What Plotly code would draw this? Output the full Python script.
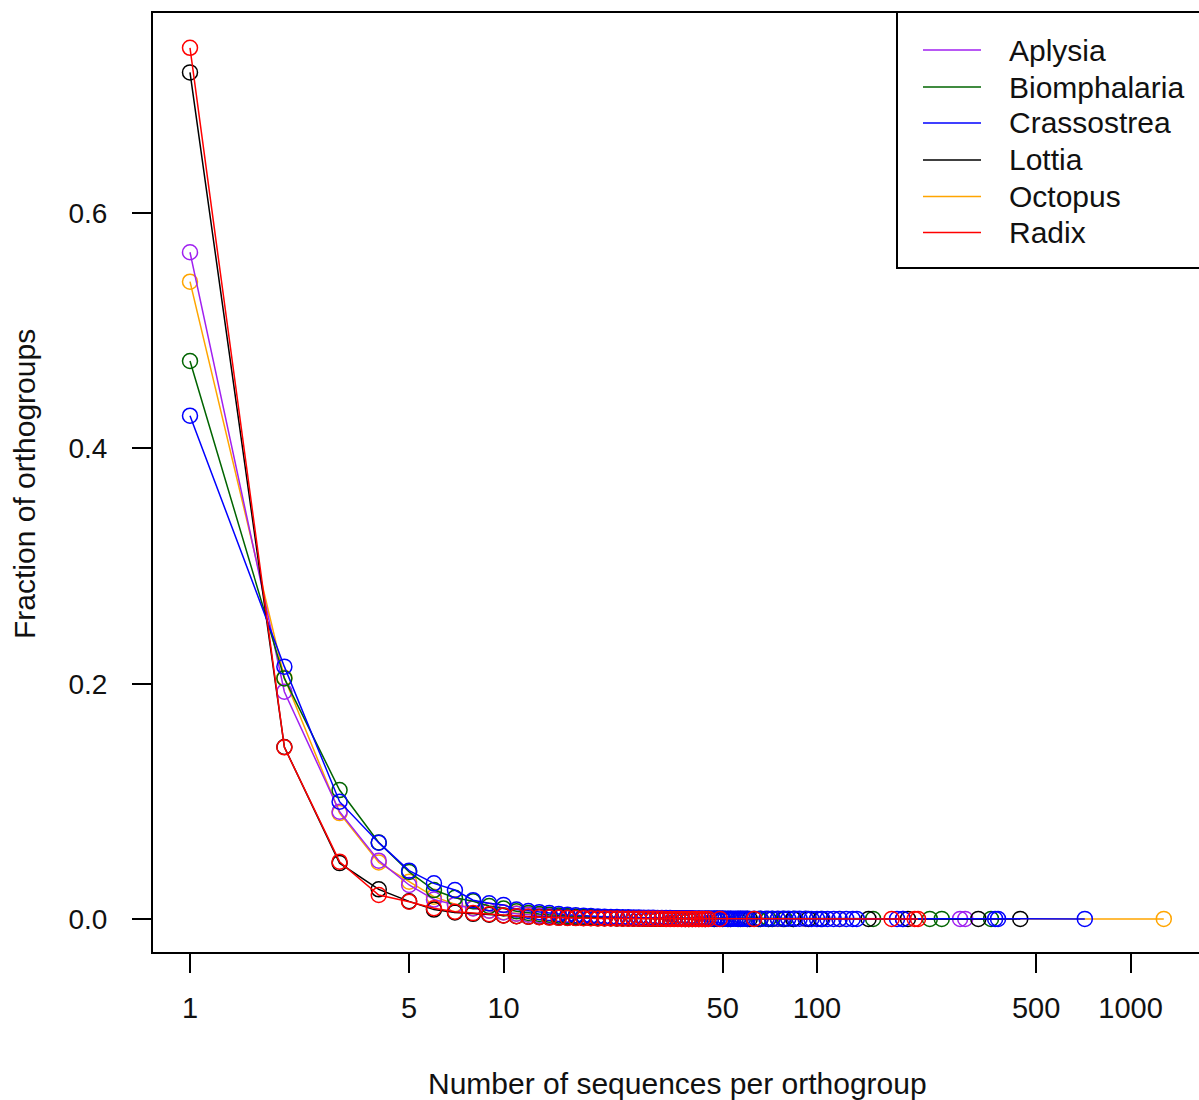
import plotly.graph_objects as go

# ---------------- data ----------------
species = ["Aplysia", "Biomphalaria", "Crassostrea", "Lottia", "Octopus", "Radix"]
colors = ["#A020F0", "#006400", "#0000FF", "#000000", "#FFA500", "#FF0000"]
draw_order = ["Octopus", "Aplysia", "Biomphalaria", "Lottia", "Crassostrea", "Radix"]

aplysia_x = list(range(1, 39)) + [41, 44, 48, 53, 60, 70, 188, 286, 297]
aplysia_y = [0.5667, 0.1932, 0.0912, 0.0496, 0.0289, 0.0165, 0.0120, 0.0090, 0.0070, 0.0055,
             0.0045, 0.0037, 0.0030, 0.0025, 0.0021, 0.0018, 0.0015, 0.0013, 0.0011, 0.0010,
             0.0009, 0.0008, 0.0007, 0.0006, 0.0006, 0.0005, 0.0005, 0.0004, 0.0004, 0.0003,
             0.0003, 0.0003, 0.0002, 0.0002, 0.0002, 0.0002, 0.0001, 0.0001,
             0.0001, 0.0001, 0.0001, 0.0001, 0.0001, 0.0001, 0.0001, 0.0001, 0.0001]

biomphalaria_x = list(range(1, 41)) + [42, 45, 48, 52, 56, 60, 65, 70, 79, 84, 151, 229, 250, 359]
biomphalaria_y = [0.4743, 0.2045, 0.1096, 0.0650, 0.0400, 0.0246, 0.0180, 0.0150, 0.0110, 0.0090,
                  0.0065, 0.0052, 0.0043, 0.0036, 0.0030, 0.0026, 0.0022, 0.0019, 0.0016, 0.0014,
                  0.0012, 0.0011, 0.0010, 0.0009, 0.0008, 0.0007, 0.0007, 0.0006, 0.0006, 0.0005,
                  0.0005, 0.0004, 0.0004, 0.0004, 0.0003, 0.0003, 0.0003, 0.0003, 0.0002, 0.0002,
                  0.0002, 0.0002, 0.0002, 0.0001, 0.0001, 0.0001, 0.0001, 0.0001, 0.0001, 0.0001,
                  0.0001, 0.0001, 0.0001, 0.0001]

crassostrea_x = list(range(1, 61)) + [63, 66, 69, 72, 75, 78, 81, 85, 88, 92, 96, 100, 104, 108,
                                      113, 118, 124, 130, 134, 180, 188, 370, 378, 715]
crassostrea_y = [0.4278, 0.2145, 0.0997, 0.0649, 0.0411, 0.0303, 0.0246, 0.0160, 0.0133, 0.0120,
                 0.0080, 0.0068, 0.0058, 0.0050, 0.0043, 0.0037, 0.0032, 0.0028, 0.0025, 0.0022,
                 0.0020, 0.0018, 0.0016, 0.0015, 0.0014, 0.0013, 0.0012, 0.0011, 0.0010, 0.0010,
                 0.0009, 0.0009, 0.0008, 0.0008, 0.0007, 0.0007, 0.0007, 0.0006, 0.0006, 0.0006,
                 0.0005, 0.0005, 0.0005, 0.0005, 0.0005, 0.0004, 0.0004, 0.0004, 0.0004, 0.0004,
                 0.0003, 0.0003, 0.0003, 0.0003, 0.0003, 0.0003, 0.0003, 0.0003, 0.0003, 0.0003,
                 0.0002, 0.0002, 0.0002, 0.0002, 0.0002, 0.0002, 0.0002, 0.0002, 0.0002, 0.0002,
                 0.0001, 0.0001, 0.0001, 0.0001, 0.0001, 0.0001, 0.0001, 0.0001, 0.0001, 0.0001,
                 0.0001, 0.0001, 0.0001, 0.0001]

lottia_x = list(range(1, 41)) + [42, 44, 47, 50, 53, 57, 61, 66, 72, 78, 84, 94, 103, 146, 195, 327, 445]
lottia_y = [0.7196, 0.1462, 0.0475, 0.0252, 0.0150, 0.0080, 0.0055, 0.0044, 0.0036, 0.0030,
            0.0024, 0.0020, 0.0017, 0.0014, 0.0012, 0.0011, 0.0010, 0.0009, 0.0008, 0.0007,
            0.0006, 0.0006, 0.0005, 0.0005, 0.0004, 0.0004, 0.0004, 0.0003, 0.0003, 0.0003,
            0.0003, 0.0002, 0.0002, 0.0002, 0.0002, 0.0002, 0.0002, 0.0001, 0.0001, 0.0001,
            0.0001, 0.0001, 0.0001, 0.0001, 0.0001, 0.0001, 0.0001, 0.0001, 0.0001, 0.0001,
            0.0001, 0.0001, 0.0001, 0.0001, 0.0001, 0.0001, 0.0001]

octopus_x = list(range(1, 37)) + [39, 43, 47, 52, 58, 66, 75, 92, 118, 1277]
octopus_y = [0.5417, 0.2050, 0.0900, 0.0480, 0.0317, 0.0190, 0.0125, 0.0092, 0.0070, 0.0058,
             0.0046, 0.0038, 0.0031, 0.0026, 0.0022, 0.0018, 0.0016, 0.0014, 0.0012, 0.0010,
             0.0009, 0.0008, 0.0007, 0.0006, 0.0006, 0.0005, 0.0004, 0.0004, 0.0004, 0.0003,
             0.0003, 0.0003, 0.0002, 0.0002, 0.0002, 0.0002,
             0.0001, 0.0001, 0.0001, 0.0001, 0.0001, 0.0001, 0.0001, 0.0001, 0.0001, 0.0001]

radix_x = list(range(1, 46)) + [49, 63, 173, 205, 210]
radix_y = [0.7405, 0.1459, 0.0487, 0.0204, 0.0147, 0.0091, 0.0062, 0.0050, 0.0040, 0.0030,
           0.0024, 0.0019, 0.0015, 0.0012, 0.0010, 0.0009, 0.0008, 0.0007, 0.0006, 0.0005,
           0.0005, 0.0004, 0.0004, 0.0003, 0.0003, 0.0003, 0.0002, 0.0002, 0.0002, 0.0002,
           0.0002, 0.0002, 0.0001, 0.0001, 0.0001, 0.0001, 0.0001, 0.0001, 0.0001, 0.0001,
           0.0001, 0.0001, 0.0001, 0.0001, 0.0001,
           0.0001, 0.0001, 0.0001, 0.0001, 0.0001]

x_tick_vals = [1, 5, 10, 50, 100, 500, 1000]
x_tick_text = ["1", "5", "10", "50", "100", "500", "1000"]
y_tick_vals = [0.0, 0.2, 0.4, 0.6]
y_tick_text = ["0.0", "0.2", "0.4", "0.6"]

x_title = "Number of sequences per orthogroup"
y_title = "Fraction of orthogroups"

series = {
    "Aplysia": (aplysia_x, aplysia_y),
    "Biomphalaria": (biomphalaria_x, biomphalaria_y),
    "Crassostrea": (crassostrea_x, crassostrea_y),
    "Lottia": (lottia_x, lottia_y),
    "Octopus": (octopus_x, octopus_y),
    "Radix": (radix_x, radix_y),
}
color_of = dict(zip(species, colors))

# ---------------- layout geometry (pixels) ----------------
W, H = 1199, 1100
L, R, T, B = 152, 0, 12, 147
PW = W - L - R
PH = H - T - B
FONT = "Liberation Sans, Arial, sans-serif"


def px(xp):
    return (xp - L) / PW


def py(yp):
    return (H - B - yp) / PH


fig = go.Figure()
for name in draw_order:
    xs, ys = series[name]
    n = min(len(xs), len(ys))
    fig.add_trace(go.Scatter(
        x=xs[:n], y=ys[:n], mode="lines+markers", name=name,
        line=dict(color=color_of[name], width=1.5),
        marker=dict(symbol="circle-open", size=15, color=color_of[name],
                    line=dict(width=1.5, color=color_of[name])),
        showlegend=False,
    ))

shapes = [
    dict(type="rect", xref="paper", yref="paper", x0=0, x1=1.02, y0=0, y1=1,
         line=dict(color="black", width=2), layer="above"),
    dict(type="rect", xref="paper", yref="paper", x0=px(897), x1=1.02, y0=py(268), y1=1,
         line=dict(color="black", width=2), layer="above"),
]
annotations = []
legend_rows = [50, 87, 123, 160, 196.5, 232.5]
for name, ry in zip(species, legend_rows):
    shapes.append(dict(type="line", xref="paper", yref="paper", x0=px(923), x1=px(981),
                       y0=py(ry), y1=py(ry), line=dict(color=color_of[name], width=1.5)))
    annotations.append(dict(xref="paper", yref="paper", x=px(1007), y=py(ry),
                            xanchor="left", yanchor="middle", showarrow=False, text=name,
                            font=dict(family=FONT, size=30, color="#111111")))

annotations.append(dict(xref="paper", yref="paper", x=px(677), y=py(1083),
                        xanchor="center", yanchor="middle", showarrow=False, text=x_title,
                        font=dict(family=FONT, size=30, color="#111111")))
annotations.append(dict(xref="paper", yref="paper", x=px(25), y=py(484),
                        xanchor="center", yanchor="middle", showarrow=False, text=y_title,
                        textangle=-90, font=dict(family=FONT, size=30, color="#111111")))

fig.update_layout(
    width=W, height=H,
    margin=dict(l=L, r=R, t=T, b=B, pad=0),
    paper_bgcolor="white", plot_bgcolor="white",
    showlegend=False,
    shapes=shapes, annotations=annotations,
    xaxis=dict(type="log", range=[(L - 190) / 313.5, (W - 190) / 313.5],
               tickmode="array", tickvals=x_tick_vals, ticktext=x_tick_text,
               ticks="outside", ticklen=19, tickwidth=1.5, tickcolor="black",
               showgrid=False, zeroline=False, showline=False,
               ticklabelstandoff=10,
               tickfont=dict(family=FONT, size=29, color="#111111")),
    yaxis=dict(range=[(919 - (H - B)) / 1176.5, (919 - T) / 1176.5],
               tickmode="array", tickvals=y_tick_vals, ticktext=y_tick_text,
               ticks="outside", ticklen=19, tickwidth=1.5, tickcolor="black",
               showgrid=False, zeroline=False, showline=False,
               ticklabelstandoff=19,
               tickfont=dict(family=FONT, size=28, color="#111111")),
)

fig.write_html("out.html")
